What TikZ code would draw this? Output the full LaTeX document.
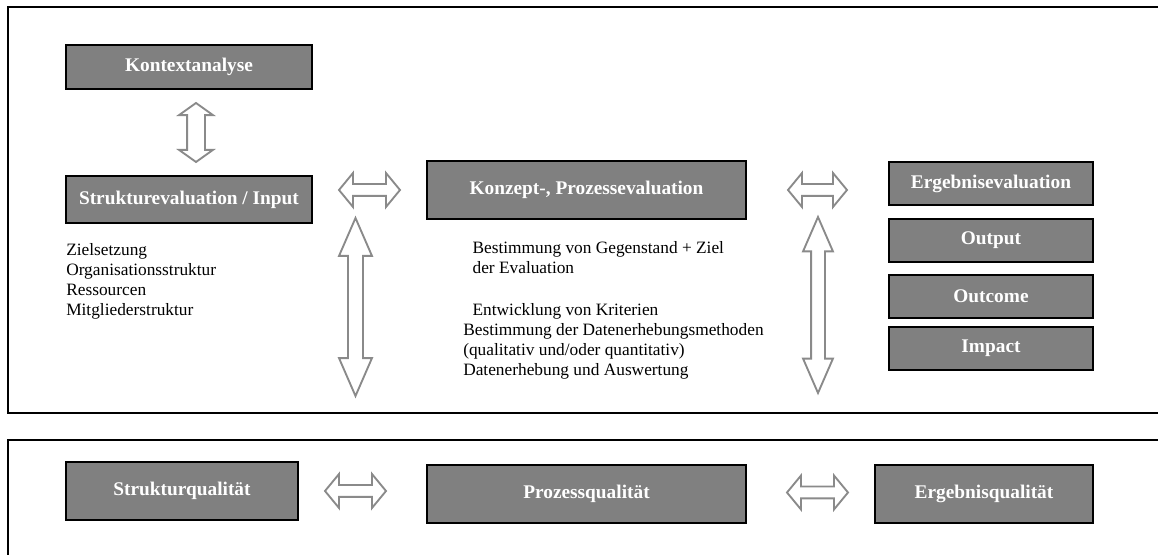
\documentclass[tikz,border=0pt]{standalone}
\usepackage{fontspec}
\setmainfont{Liberation Serif}
\usetikzlibrary{shapes.arrows}

\definecolor{boxgray}{HTML}{808080}
\definecolor{arrowgray}{HTML}{8A8A8A}

\begin{document}
\begin{tikzpicture}[x=0.75pt, y=0.75pt,
	frame/.style={draw=black, line width=1.3pt},
	box/.style={draw=black, line width=0.9pt, fill=boxgray, text=white, inner sep=0pt,
		font=\fontsize{14.5}{17}\selectfont\bfseries},
	dbl/.style={double arrow, draw=arrowgray, line width=1.4pt, fill=white, inner xsep=0pt},
	txt/.style={anchor=north west, inner sep=0pt, align=left, font=\fontsize{13}{15}\selectfont}]
	\useasboundingbox (0,0) rectangle (1158,-555);
	\draw[frame] (8,-7) rectangle (1166,-413);
	\draw[frame] (8,-440) rectangle (1166,-562);

	% Evaluation
	\node[box, minimum width=184.5pt, minimum height=33pt] (kontext) at (189,-67) {Kontextanalyse};
	\node[box, minimum width=184.5pt, minimum height=35.25pt] (struktur) at (189,-199.5) {Strukturevaluation / Input};
	\node[box, minimum width=239.25pt, minimum height=43.5pt] (konzept) at (586.5,-190) {Konzept-, Prozessevaluation};
	\node[box, minimum width=153pt, minimum height=32.25pt] (ergebnis) at (991,-183.5) {Ergebnisevaluation};
	\node[box, minimum width=153pt, minimum height=32.25pt] (output) at (991,-240.5) {Output};
	\node[box, minimum width=153pt, minimum height=32.25pt] (outcome) at (991,-296.5) {Outcome};
	\node[box, minimum width=153pt, minimum height=32.25pt] (impact) at (991,-348.5) {Impact};

	\node[txt] (ziele) at (66,-243) {Zielsetzung\\Organisationsstruktur\\Ressourcen\\Mitgliederstruktur};
	\node[txt] (schritte) at (463,-241) {\hspace*{7pt}Bestimmung von Gegenstand + Ziel\\
		\hspace*{7pt}der Evaluation\\[16.5pt]
		\hspace*{7pt}Entwicklung von Kriterien\\
		Bestimmung der Datenerhebungsmethoden\\
		(qualitativ und/oder quantitativ)\\
		Datenerhebung und Auswertung};

	\node[dbl, rotate=90, minimum height=44.25pt, inner ysep=6pt,
		double arrow head extend=6pt, double arrow tip angle=109] (kontextpfeil) at (196,-132.5) {};
	\node[dbl, minimum height=45.75pt, inner ysep=3.75pt,
		double arrow head extend=8.25pt, double arrow tip angle=101] (pfeillinks) at (369.5,-190) {};
	\node[dbl, minimum height=44.25pt, inner ysep=3.75pt,
		double arrow head extend=8.25pt, double arrow tip angle=101] (pfeilrechts) at (817.5,-190) {};
	\node[dbl, rotate=90, minimum height=133.5pt, inner ysep=4.9pt,
		double arrow head extend=6.75pt, double arrow tip angle=47] (senkrechtlinks) at (355.5,-307) {};
	\node[dbl, rotate=90, minimum height=132pt, inner ysep=4.5pt,
		double arrow head extend=6pt, double arrow tip angle=47] (senkrechtrechts) at (818,-305) {};

	% Qualitaet
	\node[box, minimum width=174pt, minimum height=43.5pt] (strukturq) at (182,-491) {Strukturqualität};
	\node[box, minimum width=239.25pt, minimum height=43.5pt] (prozessq) at (586.5,-494) {Prozessqualität};
	\node[box, minimum width=163.5pt, minimum height=43.5pt] (ergebnisq) at (984,-494) {Ergebnisqualität};
	\node[dbl, minimum height=45.75pt, inner ysep=3.75pt,
		double arrow head extend=8.25pt, double arrow tip angle=101] (qpfeillinks) at (355.5,-491) {};
	\node[dbl, minimum height=45.75pt, inner ysep=3.75pt,
		double arrow head extend=8.25pt, double arrow tip angle=101] (qpfeilrechts) at (817.5,-492.5) {};
\end{tikzpicture}
\end{document}
